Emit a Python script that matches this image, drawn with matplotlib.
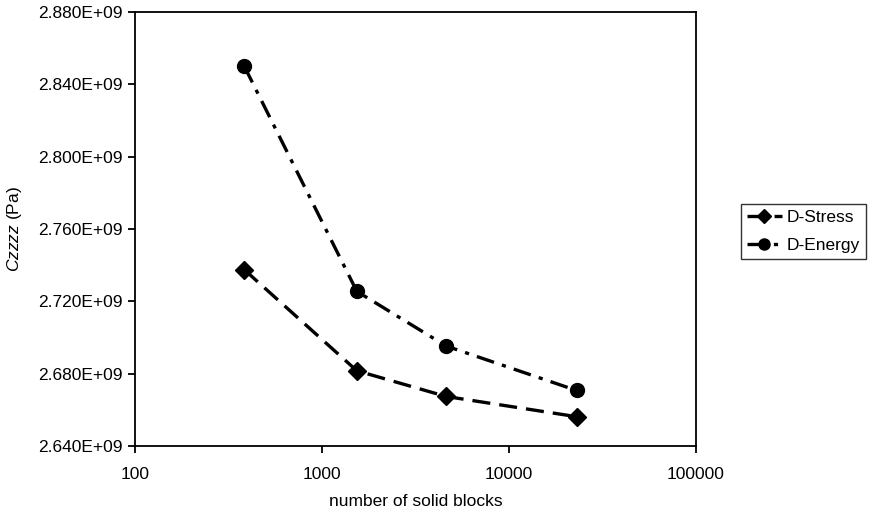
import matplotlib
matplotlib.use("Agg")
import matplotlib.pyplot as plt
from matplotlib.ticker import FixedLocator, FuncFormatter, NullLocator

plt.rcParams['font.family'] = ['Liberation Sans', 'DejaVu Sans']
plt.rcParams['mathtext.fontset'] = 'custom'
plt.rcParams['mathtext.rm'] = 'Liberation Sans'
plt.rcParams['mathtext.it'] = 'Liberation Sans:italic'
plt.rcParams['lines.scale_dashes'] = False

blocks = [384, 1536, 4608, 23000]
d_stress = [2.7375e9, 2.6816e9, 2.6674e9, 2.6562e9]
d_energy = [2.8500e9, 2.7255e9, 2.6953e9, 2.6707e9]
xticks = [100, 1000, 10000, 100000]
yticks = [2.64e9, 2.68e9, 2.72e9, 2.76e9, 2.80e9, 2.84e9, 2.88e9]

fig = plt.figure(figsize=(8.77, 5.15), dpi=100)
ax = fig.add_axes([135/877, 1-446/515, (696-135)/877, (446-12)/515])

ax.plot(blocks, d_stress, color='black', lw=2.4, dashes=(13, 6.5),
        marker='D', markersize=9, label='D-Stress')
ax.plot(blocks, d_energy, color='black', lw=2.4, dashes=(13, 6, 3, 6),
        marker='o', markersize=10, label='D-Energy')

ax.set_xscale('log')
ax.set_xlim(100, 100000)
ax.set_ylim(2.64e9, 2.88e9)
ax.xaxis.set_major_locator(FixedLocator(xticks))
ax.xaxis.set_minor_locator(NullLocator())
ax.xaxis.set_major_formatter(FuncFormatter(lambda v, p: f"{int(round(v))}"))
ax.yaxis.set_major_locator(FixedLocator(yticks))
ax.yaxis.set_major_formatter(FuncFormatter(lambda v, p: f"{v/1e9:.3f}E+09"))

for s in ax.spines.values():
    s.set_linewidth(1.3)
    s.set_color('black')
ax.tick_params(axis='both', direction='out', length=5, width=1.3,
               labelsize=12.5, colors='black', pad=4)
ax.tick_params(axis='x', pad=10)

ax.set_xlabel('number of solid blocks', fontsize=12.5, labelpad=9)
ax.set_ylabel(r'$\it{Czzzz}$ (Pa)', fontsize=12.5, labelpad=10)

leg = fig.legend(loc='upper left', bbox_to_anchor=(741/877, 1-204/515),
                 frameon=True, fancybox=False, fontsize=12.5,
                 handlelength=2.0, handletextpad=0.3, borderpad=0.35,
                 labelspacing=0.75, borderaxespad=0, markerscale=0.8)
leg.get_frame().set_edgecolor('black')
leg.get_frame().set_linewidth(1.0)

fig.savefig('out.png', dpi=100)
